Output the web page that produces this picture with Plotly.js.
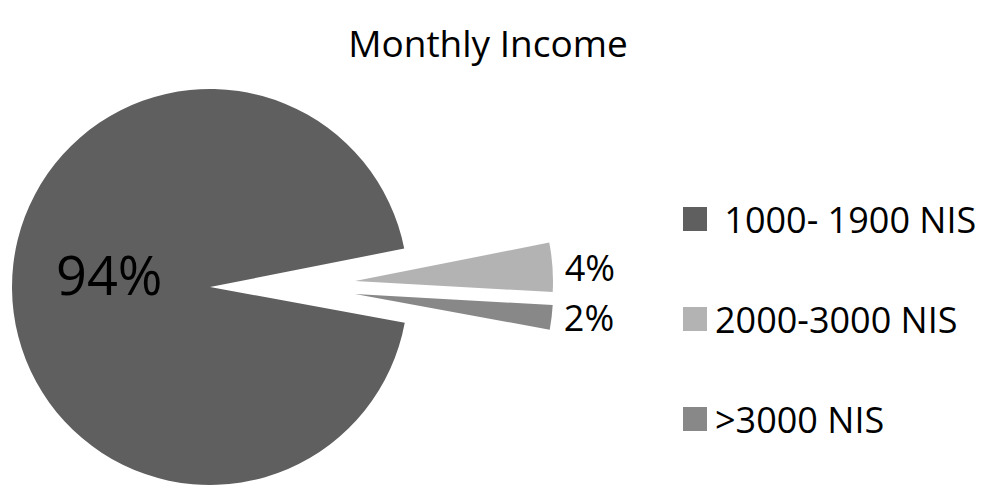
<!DOCTYPE html>
<html>
<head>
<meta charset="utf-8">
<script src="https://cdn.plot.ly/plotly-3.0.1.min.js"></script>
<style>
  html, body { margin: 0; padding: 0; background: #ffffff; }
  #chart { width: 1000px; height: 501px; }
</style>
</head>
<body>
<div id="chart"></div>
<script>
// ---- data ----
const chartTitle = "Monthly Income";
const labels = ["1000- 1900 NIS", "2000-3000 NIS", ">3000 NIS"];
const values = [94, 4, 2];
const colors = ["#5f5f5f", "#b3b3b3", "#888888"];

// ---- layout settings (positions / styles) ----
const FONT = "Open Sans, Noto Sans, sans-serif";
const W = 1000, H = 501;
// each slice drawn by its own pie trace (same values -> same angles), placed as an exploded piece
const pieBoxes = [
  { cx: 210, cy: 287, r: 198 },  // main slice
  { cx: 355, cy: 281, r: 198 },  // exploded 4%
  { cx: 355, cy: 294, r: 198 }   // exploded 2%
];
const transparent = "rgba(0,0,0,0)";

const traces = pieBoxes.map((box, k) => {
  return {
    type: "pie",
    values: values,
    labels: labels,
    sort: false,
    direction: "clockwise",
    rotation: 100.4,
    showlegend: false,
    hoverinfo: "none",
    marker: {
      colors: colors.map((c, i) => (i === k ? c : transparent)),
      line: { width: 0 }
    },
    texttemplate: values.map((v, i) => (i === k && k > 0 ? "%{percent}" : "")),
    textposition: k === 0 ? "none" : "outside",
    outsidetextfont: { family: FONT, size: 36, color: "#000000" },
    domain: {
      x: [(box.cx - box.r) / W, (box.cx + box.r) / W],
      y: [1 - (box.cy + box.r) / H, 1 - (box.cy - box.r) / H]
    }
  };
});

// label of the main slice (percent computed from the values)
const total = values.reduce((a, b) => a + b, 0);
const mainPct = Math.round(values[0] / total * 100) + "%";

// custom legend (keys + labels)
const legendX = 683, legendSize = 24, legendY0 = 219, legendStep = 100;
const shapes = labels.map((lab, i) => ({
  type: "rect", xref: "paper", yref: "paper",
  x0: legendX / W, x1: (legendX + legendSize) / W,
  y0: 1 - (legendY0 + i * legendStep + legendSize / 2) / H,
  y1: 1 - (legendY0 + i * legendStep - legendSize / 2) / H,
  fillcolor: colors[i], line: { width: 0 }
}));
const annotations = labels.map((lab, i) => ({
  xref: "paper", yref: "paper",
  x: (legendX + legendSize + 6) / W,
  y: 1 - (legendY0 + i * legendStep) / H,
  xanchor: "left", yanchor: "middle",
  text: (i === 0 ? " " : "") + lab,
  showarrow: false,
  font: { family: FONT, size: 36, color: "#000000" }
}));
annotations.push({
  xref: "paper", yref: "paper",
  x: 109 / W, y: 1 - 274 / H,
  xanchor: "center", yanchor: "middle",
  text: mainPct, showarrow: false,
  font: { family: FONT, size: 54, color: "#000000" }
});

const layout = {
  width: W, height: H,
  margin: { l: 0, r: 0, t: 0, b: 0 },
  paper_bgcolor: "#ffffff",
  plot_bgcolor: "#ffffff",
  showlegend: false,
  title: {
    text: chartTitle,
    font: { family: FONT, size: 37, color: "#000000" },
    x: 488 / W, xanchor: "center", xref: "paper",
    y: 1 - 44 / H, yanchor: "middle", yref: "container"
  },
  shapes: shapes,
  annotations: annotations
};

Plotly.newPlot("chart", traces, layout, { displayModeBar: false, staticPlot: true });
</script>
</body>
</html>
